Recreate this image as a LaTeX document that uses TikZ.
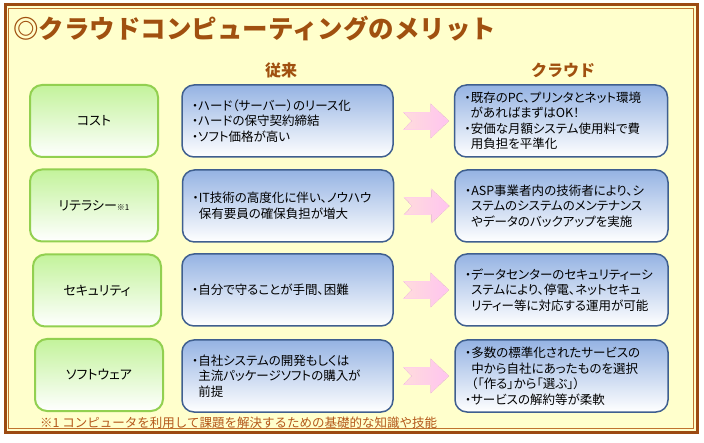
\documentclass[tikz,border=0pt]{standalone}
\usepackage{fontspec}
\setmainfont{Noto Sans CJK JP}
\newfontfamily\jpf{Noto Sans CJK JP}
\newfontfamily\jpp{Noto Sans CJK JP}[RawFeature=+palt]
\definecolor{bgyellow}{HTML}{FFFFCC}
\definecolor{framebrown}{HTML}{9C4A12}
\definecolor{frameinner}{HTML}{C0732E}
\definecolor{titlebrown}{HTML}{A0500F}
\definecolor{notebrown}{HTML}{B4581A}
\definecolor{gborder}{HTML}{92D050}
\definecolor{gtop}{HTML}{C3F39B}
\definecolor{bborder}{HTML}{3F5F8F}
\definecolor{btop}{HTML}{95B3E3}
\definecolor{pinkL}{HTML}{FFDCDC}
\definecolor{pinkR}{HTML}{FFC4F0}
\definecolor{pinkE}{HTML}{FFD0E8}
\begin{document}
\begin{tikzpicture}[x=1pt,y=-1pt,
  greenbox/.style={draw=gborder, line width=2pt, rounded corners=12pt,
    top color=gtop, middle color=gtop!85!white, bottom color=white,
    minimum width=128pt, minimum height=72pt,
    font=\jpp\fontsize{13}{15}\selectfont},
  bluebox/.style={draw=bborder, line width=1.5pt, rounded corners=12pt,
    top color=btop, middle color=btop!65!white, bottom color=white,
    minimum height=72pt, inner xsep=10pt, align=left,
    font=\jpp\fontsize{12.5}{15.5}\selectfont},
  midbox/.style={bluebox, text width=191pt},
  cloudbox/.style={bluebox, text width=193pt},
  arrowshape/.style={left color=pinkL, right color=pinkR, draw=pinkE, line width=0.6pt},
  hdr/.style={font=\jpf\bfseries\fontsize{16}{16}\selectfont, text=titlebrown},
]
\useasboundingbox (0,0) rectangle (704,443);
% background and frame
\fill[white] (0,0) rectangle (704,443);
\fill[bgyellow] (5,5) rectangle (697,432);
\draw[framebrown, line width=3pt] (5,5) rectangle (697,432);
\draw[frameinner, line width=0.8pt] (8.8,8.8) rectangle (693.2,428.2);

% title
\node[anchor=west, inner sep=0pt, text=titlebrown, font=\jpf\bfseries\fontsize{25.5}{25.5}\selectfont] (title) at (13,29) {◎クラウドコンピューティングのメリット};

% headers
\node[hdr] (h1) at (281,70) {従来};
\node[hdr] (h2) at (563,70) {クラウド};

% left column
\node[greenbox] (g1) at (94,121) {コスト};
\node[greenbox] (g2) at (94,205.5) {リテラシー{\fontsize{8}{8}\selectfont ※1}};
\node[greenbox] (g3) at (97,290.5) {セキュリティ};
\node[greenbox] (g4) at (99,375) {ソフトウェア};

% middle column
\node[midbox] (m1) at (287.5,121) {・ハード（サーバー）のリース化\\・ハードの保守契約締結\\・ソフト価格が高い};
\node[midbox] (m2) at (288,206) {・IT技術の高度化に伴い、ノウハウ\\\hphantom{・}保有要員の確保負担が増大};
\node[midbox] (m3) at (287.5,290) {・自分で守ることが手間、困難};
\node[midbox] (m4) at (287.5,376) {・自社システムの開発もしくは\\\hphantom{・}主流パッケージソフトの購入が\\\hphantom{・}前提};

% right column
\node[cloudbox] (r1) at (561,121) {・既存のPC、プリンタとネット環境\\\hphantom{・}があればまずはOK！\\・安価な月額システム使用料で費\\\hphantom{・}用負担を平準化};
\node[cloudbox] (r2) at (561.5,206) {・ASP事業者内の技術者により、シ\\\hphantom{・}ステムのシステムのメンテナンス\\\hphantom{・}やデータのバックアップを実施};
\node[cloudbox] (r3) at (561.5,290) {・データセンターのセキュリティーシ\\\hphantom{・}ステムにより、停電、ネットセキュ\\\hphantom{・}リティー等に対応する運用が可能};
\node[cloudbox] (r4) at (561.5,376) {・多数の標準化されたサービスの\\\hphantom{・}中から自社にあったものを選択\\\hphantom{・}（「作る」から「選ぶ」）\\・サービスの解約等が柔軟};

% arrows
\foreach \i in {1,...,4}{
  \filldraw[arrowshape, shift={(m\i.east)}]
    (10,-8.5) -- (37,-8.5) -- (37,-17) -- (55,0) -- (37,17) -- (37,8.5)
    -- (10,8.5) -- (18,0) -- cycle;
}

% footnote
\node[anchor=west, inner sep=0pt, text=notebrown, font=\jpf\fontsize{12.5}{12.5}\selectfont] (note) at (40,423) {※1 コンピュータを利用して課題を解決するための基礎的な知識や技能};
\end{tikzpicture}
\end{document}
